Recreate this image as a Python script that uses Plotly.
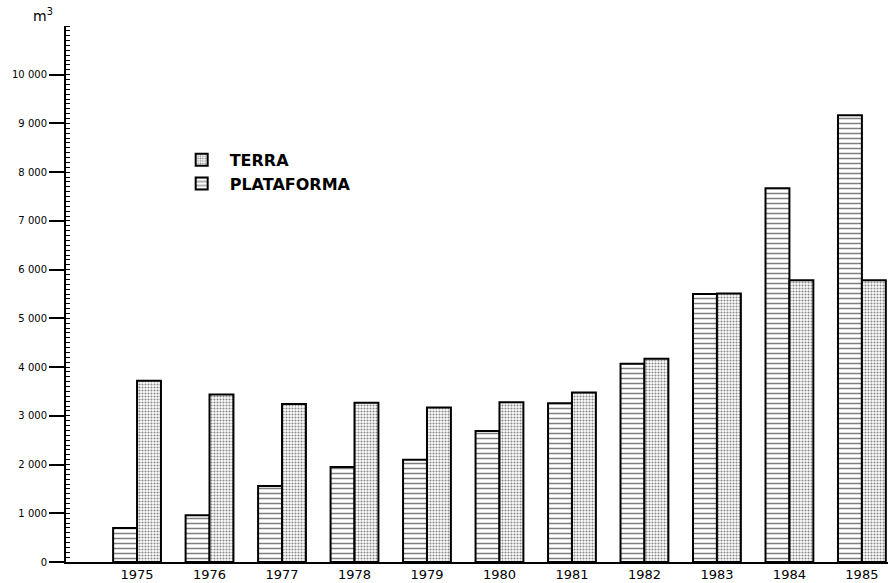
import plotly.graph_objects as go

years = ["1975", "1976", "1977", "1978", "1979", "1980", "1981", "1982", "1983", "1984", "1985"]
plataforma = [700, 960, 1560, 1950, 2100, 2690, 3260, 4070, 5500, 7670, 9170]
terra = [3720, 3440, 3240, 3270, 3170, 3280, 3480, 4170, 5510, 5780, 5780]

y_tickvals = [0, 1000, 2000, 3000, 4000, 5000, 6000, 7000, 8000, 9000, 10000]
y_ticktext = ["0", "1 000", "2 000", "3 000", "4 000", "5 000", "6 000", "7 000", "8 000", "9 000", "10 000"]

fig = go.Figure()
fig.add_trace(go.Bar(
    x=years, y=plataforma, name="PLATAFORMA", legendrank=2, legendgroup="p",
    marker=dict(color="white", line=dict(color="black", width=2),
                pattern=dict(shape="-", fgcolor="black", bgcolor="white", size=5, solidity=0.3)),
))
fig.add_trace(go.Bar(
    x=years, y=terra, name="TERRA", legendrank=1, legendgroup="t",
    marker=dict(color="white", line=dict(color="black", width=2),
                pattern=dict(shape=".", fgcolor="#111", bgcolor="white", size=3, solidity=0.4)),
))

fig.update_layout(
    width=888, height=583,
    margin=dict(l=66, r=0, t=26, b=21),
    paper_bgcolor="white", plot_bgcolor="white",
    barmode="group", bargap=0.34, bargroupgap=0,
    font=dict(family="DejaVu Sans, sans-serif", color="black"),
    showlegend=True,
    legend=dict(x=0.131, y=0.782, xanchor="left", yanchor="top",
                font=dict(size=16, family="DejaVu Sans, sans-serif", weight="bold"),
                bgcolor="rgba(0,0,0,0)", tracegroupgap=12, traceorder="normal",
                itemwidth=46),
    xaxis=dict(type="category", range=[-0.98, 10.36], showline=True, linecolor="black", linewidth=1.5,
               ticks="", showgrid=False, tickfont=dict(size=13), zeroline=False, ticklabelstandoff=0),
    yaxis=dict(range=[0, 11000], showline=True, linecolor="black", linewidth=2,
               tickmode="array", tickvals=y_tickvals, ticktext=y_ticktext,
               ticks="outside", ticklen=15, tickwidth=1.5, tickcolor="black",
               tickfont=dict(size=10), showgrid=False, zeroline=False,
               minor=dict(dtick=100, tick0=0, ticks="inside", ticklen=4, tickwidth=1, tickcolor="black", showgrid=False)),
    annotations=[dict(text="m<sup>3</sup>", xref="paper", yref="paper", x=-0.028, y=1.0,
                      xanchor="center", yanchor="bottom", showarrow=False, font=dict(size=14))],
)

fig.write_html("out.html", config={"displayModeBar": False},
               post_script="document.body.style.margin='0';")
